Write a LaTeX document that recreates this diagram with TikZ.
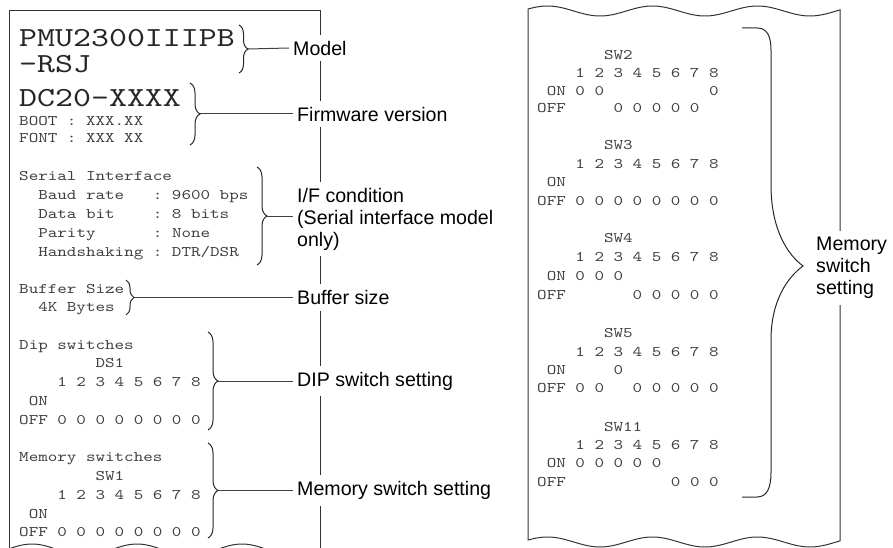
\documentclass[tikz,border=0pt]{standalone}
\usepackage{fontspec}
\usetikzlibrary{decorations.pathreplacing}

\newfontfamily\rcptfont{lmmono10-regular.otf}[FakeStretch=1.24]
\newfontfamily\lblfont{Liberation Sans}

% espacios fijos del recibo
\newcommand\ind[1]{\mbox{}\foreach \k in {1,...,#1}{~}}
\newcommand\swrow[2]{#1\foreach \swv in {#2}{~\swv}}

\begin{document}
\begin{tikzpicture}[x=1pt,y=-1pt,
    paper/.style={line width=1pt, black!80},
    conn/.style={line width=1pt, black!75},
    % el ancla base es la linea de base de la ultima linea
    rcpt/.style={anchor=base west, inner sep=0pt, align=left, text=black!75,
        font=\rcptfont\frenchspacing\fontsize{14.67}{#1}\selectfont},
    rcpt/.default=18.8,
    rcptbig/.style={anchor=base west, inner sep=0pt, align=left, text=black!85,
        font=\rcptfont\frenchspacing\fontsize{27.6}{#1}\selectfont},
    rcptbig/.default=26.3,
    lbl/.style={anchor=west, fill=white, inner xsep=4pt, inner ysep=6pt, align=left,
        font=\lblfont\fontsize{19.6}{22}\selectfont},
    brc/.style={decorate, decoration={brace, amplitude=#1}, line width=1pt, black!85},
    brc/.default=10]

    \useasboundingbox (0,0) rectangle (893,548);
    \clip (0,0) rectangle (893,548);

    % 1. Recibo izquierdo
    \draw[paper] (9,560) -- (9,10.7) -- (320,10.7) -- (320,560);
    \draw[paper] plot[domain=9:320, samples=90] (\x,{550-6*cos((\x-32)/105*360)});

    % 2. Recibo derecho (corte ondulado arriba y abajo)
    \draw[paper] plot[domain=528:840, samples=90] (\x,{11+5*cos((\x-600)/105*360)})
        -- plot[domain=840:528, samples=90] (\x,{542+5*cos((\x-600)/105*360)}) -- cycle;

    % 3. Textos del recibo izquierdo
    \node[rcptbig] (pmu) at (19,73) {PMU2300IIIPB\\-RSJ};
    \node[rcptbig] (dcver) at (19,107) {DC20-XXXX};
    \node[rcpt=17] (boot) at (19,142.5) {BOOT : XXX.XX\\FONT : XXX XX};
    \node[rcpt=18.9] (serial) at (19,256.1) {Serial Interface\\
        \ind{2}Baud rate~~~: 9600 bps\\
        \ind{2}Data bit~~~~: 8 bits\\
        \ind{2}Parity~~~~~~: None\\
        \ind{2}Handshaking : DTR/DSR};
    \node[rcpt=17.7] (buffer) at (19,311.2) {Buffer Size\\\ind{2}4K Bytes};
    \node[rcpt] (dip) at (19,424.2) {Dip switches\\
        \ind{8}DS1\\
        \swrow{\ind{3}}{1,...,8}\\
        \ind{1}ON\\
        \swrow{OFF}{0,0,0,0,0,0,0,0}};
    \node[rcpt=18.75] (memsw) at (19,536.8) {Memory switches\\
        \ind{8}SW1\\
        \swrow{\ind{3}}{1,...,8}\\
        \ind{1}ON\\
        \swrow{OFF}{0,0,0,0,0,0,0,0}};

    % 4. Textos del recibo derecho
    \node[rcpt=17.8] (sw2) at (537,112.9) {\ind{7}SW2\\
        \swrow{\ind{3}}{1,...,8}\\
        \swrow{\ind{1}ON}{0,0,~,~,~,~,~,0}\\
        \swrow{OFF}{~,~,0,0,0,0,0}};
    \node[rcpt=18.7] (sw3) at (537,205.6) {\ind{7}SW3\\
        \swrow{\ind{3}}{1,...,8}\\
        \ind{1}ON\\
        \swrow{OFF}{0,0,0,0,0,0,0,0}};
    \node[rcpt=18.9] (sw4) at (537,299.5) {\ind{7}SW4\\
        \swrow{\ind{3}}{1,...,8}\\
        \swrow{\ind{1}ON}{0,0,0}\\
        \swrow{OFF}{~,~,~,0,0,0,0,0}};
    \node[rcpt=18.3] (sw5) at (537,392.7) {\ind{7}SW5\\
        \swrow{\ind{3}}{1,...,8}\\
        \swrow{\ind{1}ON}{~,~,0}\\
        \swrow{OFF}{0,0,~,0,0,0,0,0}};
    \node[rcpt=18.3] (sw11) at (537,486.1) {\ind{7}SW11\\
        \swrow{\ind{3}}{1,...,8}\\
        \swrow{\ind{1}ON}{0,0,0,0,0}\\
        \swrow{OFF}{~,~,~,~,~,0,0,0}};

    % 5. Llaves
    \draw[brc=9] (239,25) -- (239,73);
    \coordinate (tmodel) at (248,49);
    \draw[brc] (190,83) -- (190,145);
    \coordinate (tfirm) at (200,114);
    \draw[brc] (257,167) -- (257,265);
    \coordinate (tif) at (267,216);
    \draw[brc=8] (126,280) -- (126,315);
    \coordinate (tbuf) at (134,297.5);
    \draw[brc] (208,332) -- (208,430);
    \coordinate (tdip) at (218,381);
    \draw[brc] (208,443) -- (208,538);
    \coordinate (tmem) at (218,490.5);

    % 6. Llave grande del recibo derecho
    \draw[line width=1pt, black!85] (742,28) -- (757,28)
        .. controls (767,28) and (771,36) .. (771,50) -- (771,185)
        .. controls (771,230) and (788,255) .. (803,266)
        .. controls (788,277) and (771,300) .. (771,340) -- (771,472)
        .. controls (771,488) and (767,497) .. (757,497) -- (742,497);
    \coordinate (tmemsw) at (803,266);

    % 7. Etiquetas
    \node[lbl] (lmodel) at (289,48) {Model};
    \node[lbl] (lfirm) at (293,114) {Firmware version};
    \node[lbl] (lif) at (293,219) {I/F condition\\(Serial interface model\\only)};
    \node[lbl] (lbuf) at (293,297.5) {Buffer size};
    \node[lbl] (ldip) at (293,381) {DIP switch setting};
    \node[lbl] (lmem) at (293,490.5) {Memory switch setting};
    \node[lbl] (lmemsw) at (812,268) {Memory\\switch\\setting};

    % 8. Lineas hacia las etiquetas
    \draw[conn] (tmodel) -- (lmodel.west);
    \draw[conn] (tfirm) -- (lfirm.west);
    \draw[conn] (tif) -- (tif -| lif.west);
    \draw[conn] (tbuf) -- (lbuf.west);
    \draw[conn] (tdip) -- (ldip.west);
    \draw[conn] (tmem) -- (lmem.west);

\end{tikzpicture}
\end{document}
